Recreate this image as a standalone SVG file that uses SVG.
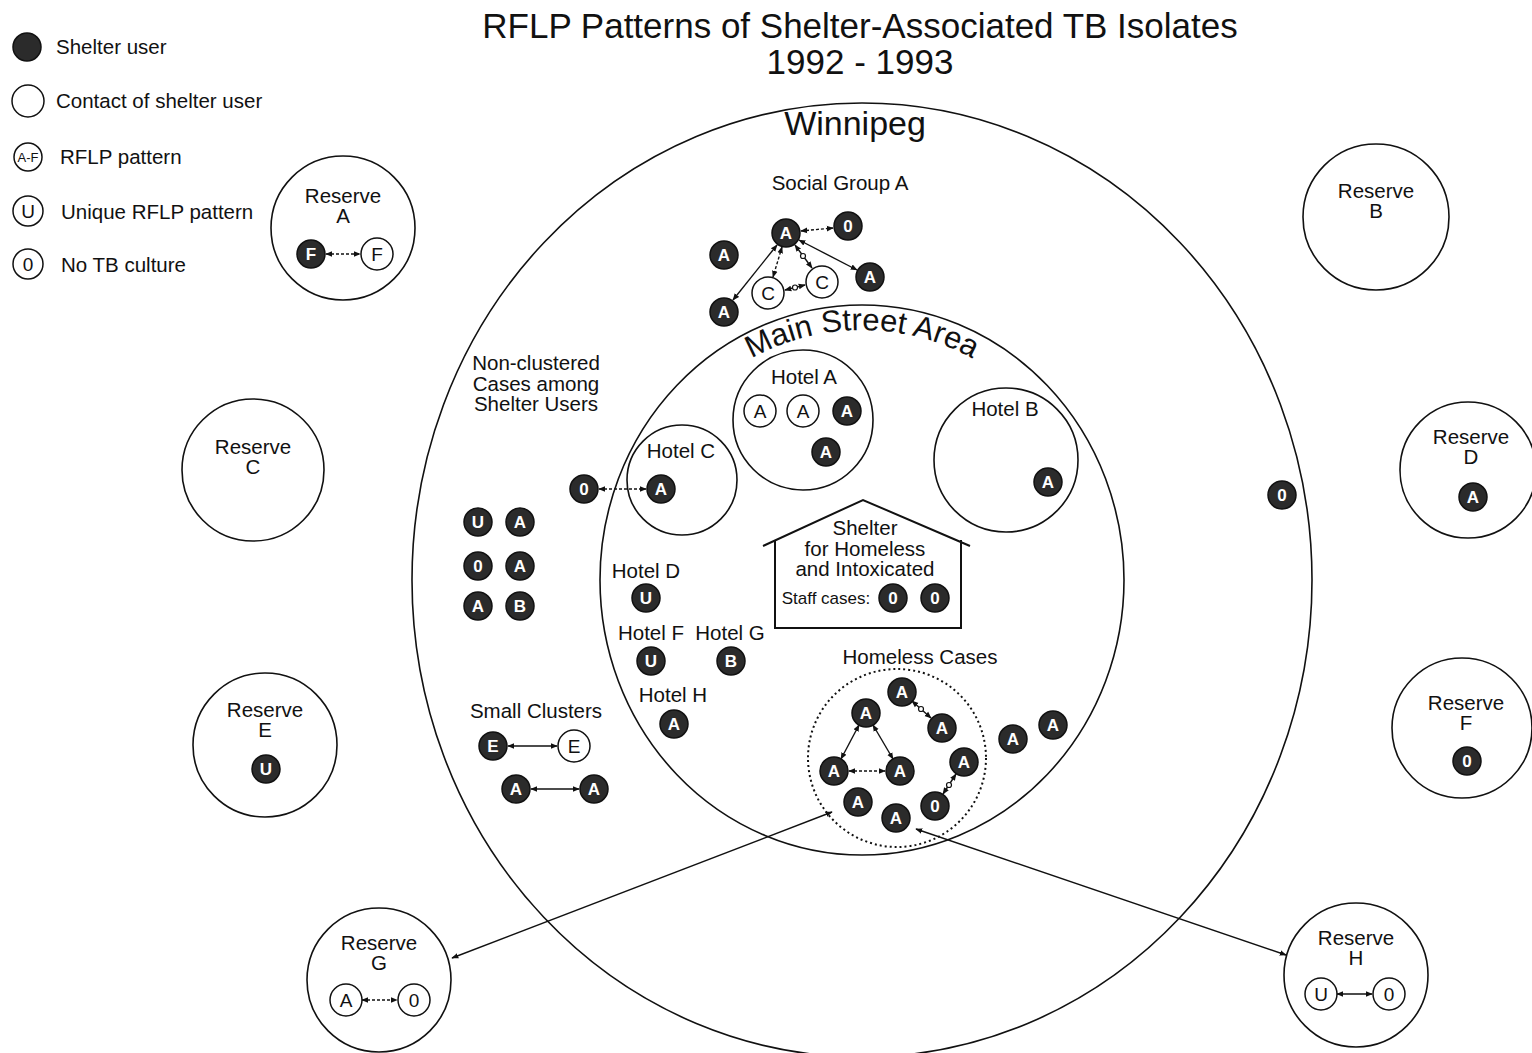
<svg xmlns="http://www.w3.org/2000/svg" width="1532" height="1053" viewBox="0 0 1532 1053">
<style>
text{font-family:"Liberation Sans",Arial,sans-serif;fill:#111}
.t{font-size:20.5px;text-anchor:middle}
.tl{font-size:20.5px}
.big{font-size:35px;text-anchor:middle}
.area{fill:none;stroke:#111;stroke-width:1.6}
.res{fill:#fff;stroke:#111;stroke-width:1.6}
.f{fill:#2b2b2b;stroke:#111;stroke-width:1.5}
.ft{font-size:17px;font-weight:bold;fill:#fff;text-anchor:middle}
.o{fill:#fff;stroke:#111;stroke-width:1.5}
.ot{font-size:19px;text-anchor:middle}
.c{stroke:#111;stroke-width:1.4;fill:none;marker-start:url(#ah);marker-end:url(#ah)}
.d{stroke-dasharray:3 2}
.dot{fill:#fff;stroke:#111;stroke-width:1.2}
</style>
<defs>
<marker id="ah" viewBox="0 0 10 10" refX="9" refY="5" markerWidth="7" markerHeight="7" orient="auto-start-reverse" markerUnits="userSpaceOnUse"><path d="M0,1 L10,5 L0,9 z" fill="#111"/></marker>
<path id="msPath" d="M 623,580 A 239 250 0 0 1 1101,580"/>
</defs>
<rect width="1532" height="1053" fill="#fff"/>

<g id="title">
<text class="big" x="860" y="38">RFLP Patterns of Shelter-Associated TB Isolates</text>
<text class="big" x="860" y="74">1992 - 1993</text>
</g>

<g id="legend">
<circle cx="27" cy="47" r="14" class="f" fill="#3a3a3a"/><text class="tl" x="56" y="54">Shelter user</text>
<circle cx="28" cy="101" r="16" class="o"/><text class="tl" x="56" y="108">Contact of shelter user</text>
<circle cx="28" cy="157" r="14" class="o"/><text x="28" y="162" style="font-size:13px;text-anchor:middle">A-F</text><text class="tl" x="60" y="164">RFLP pattern</text>
<circle cx="28" cy="211" r="15" class="o"/><text class="ot" x="28" y="218">U</text><text class="tl" x="61" y="219">Unique RFLP pattern</text>
<circle cx="28" cy="264" r="15" class="o"/><text class="ot" x="28" y="271">0</text><text class="tl" x="61" y="272">No TB culture</text>
</g>

<g id="winnipeg">
<ellipse cx="862" cy="580" rx="450" ry="477" class="area"/>
<text x="855" y="135" style="font-size:34px;text-anchor:middle">Winnipeg</text>
</g>

<g id="main-street-area">
<ellipse cx="862" cy="580" rx="262" ry="275" class="area"/>
<text style="font-size:31px"><textPath href="#msPath" startOffset="50%" text-anchor="middle">Main Street Area</textPath></text>
</g>

<g id="reserve-a"><circle cx="343" cy="228" r="72" class="res"/><text class="t" x="343" y="203">Reserve</text><text class="t" x="343" y="223">A</text>
<circle cx="311" cy="254" r="14" class="f"/><text class="ft" x="311" y="260">F</text>
<circle cx="377" cy="254" r="16" class="o"/><text class="ot" x="377" y="261">F</text></g>
<g id="reserve-b"><circle cx="1376" cy="217" r="73" class="res"/><text class="t" x="1376" y="198">Reserve</text><text class="t" x="1376" y="218">B</text></g>
<g id="reserve-c"><circle cx="253" cy="470" r="71" class="res"/><text class="t" x="253" y="454">Reserve</text><text class="t" x="253" y="474">C</text></g>
<g id="reserve-d"><circle cx="1468" cy="470" r="68" class="res"/><text class="t" x="1471" y="444">Reserve</text><text class="t" x="1471" y="464">D</text>
<circle cx="1473" cy="497" r="14" class="f"/><text class="ft" x="1473" y="503">A</text></g>
<g id="reserve-e"><circle cx="265" cy="745" r="72" class="res"/><text class="t" x="265" y="717">Reserve</text><text class="t" x="265" y="737">E</text>
<circle cx="266" cy="769" r="14" class="f"/><text class="ft" x="266" y="775">U</text></g>
<g id="reserve-f"><circle cx="1462" cy="728" r="70" class="res"/><text class="t" x="1466" y="710">Reserve</text><text class="t" x="1466" y="730">F</text>
<circle cx="1467" cy="761" r="14" class="f"/><text class="ft" x="1467" y="767">0</text></g>
<g id="reserve-g"><circle cx="379" cy="980" r="72" class="res"/><text class="t" x="379" y="950">Reserve</text><text class="t" x="379" y="970">G</text>
<circle cx="346" cy="1000" r="16" class="o"/><text class="ot" x="346" y="1007">A</text>
<circle cx="414" cy="1000" r="16" class="o"/><text class="ot" x="414" y="1007">0</text></g>
<g id="reserve-h"><circle cx="1356" cy="975" r="72" class="res"/><text class="t" x="1356" y="945">Reserve</text><text class="t" x="1356" y="965">H</text>
<circle cx="1321" cy="994" r="16" class="o"/><text class="ot" x="1321" y="1001">U</text>
<circle cx="1389" cy="994" r="16" class="o"/><text class="ot" x="1389" y="1001">0</text></g>

<g id="social-group-a"><text class="t" x="840" y="190">Social Group A</text>
<circle cx="786" cy="233" r="14" class="f"/><text class="ft" x="786" y="239">A</text>
<circle cx="848" cy="226" r="14" class="f"/><text class="ft" x="848" y="232">0</text>
<circle cx="724" cy="255" r="14" class="f"/><text class="ft" x="724" y="261">A</text>
<circle cx="870" cy="277" r="14" class="f"/><text class="ft" x="870" y="283">A</text>
<circle cx="724" cy="312" r="14" class="f"/><text class="ft" x="724" y="318">A</text>
<circle cx="768" cy="293" r="16" class="o"/><text class="ot" x="768" y="300">C</text>
<circle cx="822" cy="282" r="16" class="o"/><text class="ot" x="822" y="289">C</text></g>

<g id="hotel-a"><circle cx="803" cy="420" r="70" class="area"/><text class="t" x="804" y="384">Hotel A</text>
<circle cx="760" cy="411" r="16" class="o"/><text class="ot" x="760" y="418">A</text>
<circle cx="803" cy="411" r="16" class="o"/><text class="ot" x="803" y="418">A</text>
<circle cx="847" cy="411" r="14" class="f"/><text class="ft" x="847" y="417">A</text>
<circle cx="826" cy="452" r="14" class="f"/><text class="ft" x="826" y="458">A</text></g>

<g id="hotel-b"><circle cx="1006" cy="460" r="72" class="area"/><text class="t" x="1005" y="416">Hotel B</text>
<circle cx="1048" cy="482" r="14" class="f"/><text class="ft" x="1048" y="488">A</text></g>

<g id="hotel-c"><circle cx="682" cy="480" r="55" class="area"/><text class="t" x="681" y="458">Hotel C</text>
<circle cx="661" cy="489" r="14" class="f"/><text class="ft" x="661" y="495">A</text></g>

<g id="hotel-c-contact"><circle cx="584" cy="489" r="14" class="f"/><text class="ft" x="584" y="495">0</text></g>

<g id="non-clustered"><text class="t" x="536" y="370">Non-clustered</text><text class="t" x="536" y="391">Cases among</text><text class="t" x="536" y="411">Shelter Users</text>
<circle cx="478" cy="522" r="14" class="f"/><text class="ft" x="478" y="528">U</text>
<circle cx="520" cy="522" r="14" class="f"/><text class="ft" x="520" y="528">A</text>
<circle cx="478" cy="566" r="14" class="f"/><text class="ft" x="478" y="572">0</text>
<circle cx="520" cy="566" r="14" class="f"/><text class="ft" x="520" y="572">A</text>
<circle cx="478" cy="606" r="14" class="f"/><text class="ft" x="478" y="612">A</text>
<circle cx="520" cy="606" r="14" class="f"/><text class="ft" x="520" y="612">B</text></g>

<g id="hotel-d"><text class="t" x="646" y="578">Hotel D</text><circle cx="646" cy="598" r="14" class="f"/><text class="ft" x="646" y="604">U</text></g>
<g id="hotel-f"><text class="t" x="651" y="640">Hotel F</text><circle cx="651" cy="661" r="14" class="f"/><text class="ft" x="651" y="667">U</text></g>
<g id="hotel-g"><text class="t" x="730" y="640">Hotel G</text><circle cx="731" cy="661" r="14" class="f"/><text class="ft" x="731" y="667">B</text></g>
<g id="hotel-h"><text class="t" x="673" y="702">Hotel H</text><circle cx="674" cy="724" r="14" class="f"/><text class="ft" x="674" y="730">A</text></g>

<g id="small-clusters"><text class="t" x="536" y="718">Small Clusters</text>
<circle cx="493" cy="746" r="14" class="f"/><text class="ft" x="493" y="752">E</text>
<circle cx="574" cy="746" r="16" class="o"/><text class="ot" x="574" y="753">E</text>
<circle cx="516" cy="789" r="14" class="f"/><text class="ft" x="516" y="795">A</text>
<circle cx="594" cy="789" r="14" class="f"/><text class="ft" x="594" y="795">A</text></g>

<g id="shelter">
<path d="M763,546 L863,500 L970,546 M775,540 L775,628 L961,628 L961,540" fill="none" stroke="#111" stroke-width="2"/>
<text class="t" x="865" y="535">Shelter</text><text class="t" x="865" y="556">for Homeless</text><text class="t" x="865" y="576">and Intoxicated</text>
<text x="826" y="604" style="font-size:17px;text-anchor:middle">Staff cases:</text>
<circle cx="893" cy="598" r="14" class="f"/><text class="ft" x="893" y="604">0</text>
<circle cx="935" cy="598" r="14" class="f"/><text class="ft" x="935" y="604">0</text>
</g>

<g id="homeless-cases"><text class="t" x="920" y="664">Homeless Cases</text>
<circle cx="897" cy="758" r="89" fill="none" stroke="#111" stroke-width="2" stroke-dasharray="2 3"/>
<circle cx="902" cy="692" r="14" class="f"/><text class="ft" x="902" y="698">A</text>
<circle cx="866" cy="713" r="14" class="f"/><text class="ft" x="866" y="719">A</text>
<circle cx="942" cy="728" r="14" class="f"/><text class="ft" x="942" y="734">A</text>
<circle cx="834" cy="771" r="14" class="f"/><text class="ft" x="834" y="777">A</text>
<circle cx="900" cy="771" r="14" class="f"/><text class="ft" x="900" y="777">A</text>
<circle cx="964" cy="762" r="14" class="f"/><text class="ft" x="964" y="768">A</text>
<circle cx="858" cy="802" r="14" class="f"/><text class="ft" x="858" y="808">A</text>
<circle cx="896" cy="818" r="14" class="f"/><text class="ft" x="896" y="824">A</text>
<circle cx="935" cy="806" r="14" class="f"/><text class="ft" x="935" y="812">0</text>
</g>
<g id="outside-homeless"><circle cx="1013" cy="739" r="14" class="f"/><text class="ft" x="1013" y="745">A</text>
<circle cx="1053" cy="725" r="14" class="f"/><text class="ft" x="1053" y="731">A</text></g>
<g id="winnipeg-unlinked"><circle cx="1282" cy="495" r="14" class="f"/><text class="ft" x="1282" y="501">0</text></g>

<g id="connectors">
<line class="c d" x1="801" y1="231" x2="833" y2="228"/>
<line class="c" x1="777" y1="245" x2="733" y2="300"/>
<line class="c d" x1="782" y1="247" x2="773" y2="277"/>
<line class="c" x1="795" y1="245" x2="812" y2="268"/>
<circle class="dot" cx="803" cy="256" r="2.5"/>
<line class="c" x1="799" y1="240" x2="857" y2="270"/>
<line class="c" x1="785" y1="290" x2="805" y2="285"/>
<circle class="dot" cx="795" cy="287.5" r="2.5"/>
<line class="c d" x1="599" y1="489" x2="646" y2="489"/>
<line class="c d" x1="326" y1="254" x2="360" y2="254"/>
<line class="c" x1="508" y1="746" x2="557" y2="746"/>
<line class="c" x1="531" y1="789" x2="579" y2="789"/>
<line class="c d" x1="362" y1="1000" x2="397" y2="1000"/>
<line class="c" x1="1337" y1="994" x2="1372" y2="994"/>
<line class="c" x1="859" y1="725" x2="841" y2="759"/>
<line class="c" x1="873" y1="725" x2="893" y2="759"/>
<line class="c d" x1="849" y1="771" x2="885" y2="771"/>
<line class="c" x1="912" y1="701" x2="931" y2="718"/>
<circle class="dot" cx="921" cy="709" r="2.5"/>
<line class="c" x1="956" y1="774" x2="943" y2="794"/>
<circle class="dot" cx="949" cy="785" r="2.5"/>
<line class="c" x1="452" y1="958" x2="832" y2="812"/>
<line class="c" x1="916" y1="829" x2="1286" y2="955"/>
</g>
</svg>
